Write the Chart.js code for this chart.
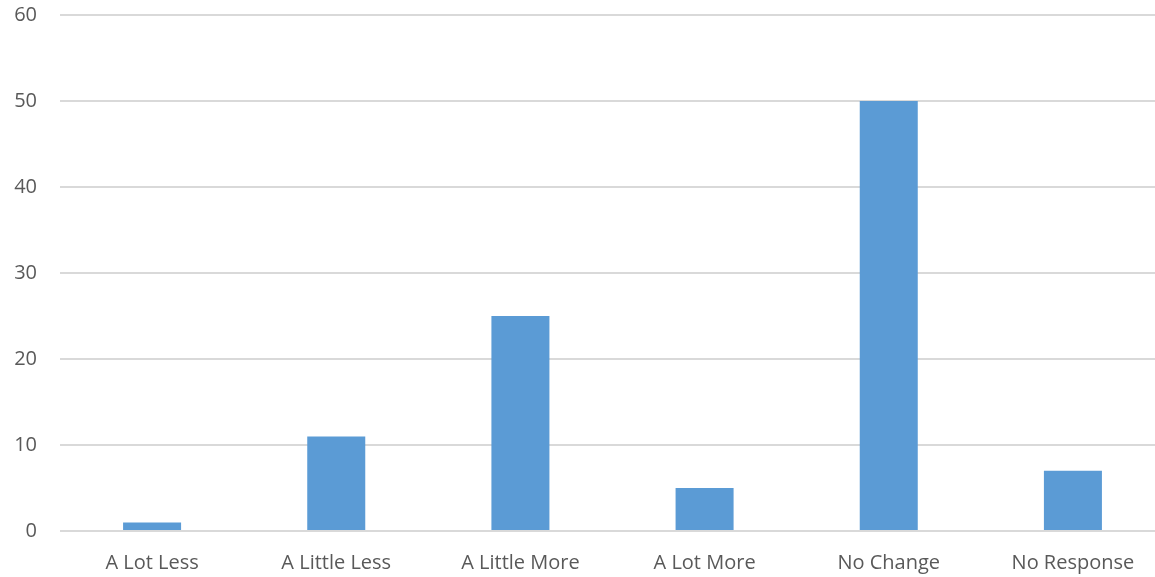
<!DOCTYPE html>
<html>
<head>
<meta charset="utf-8">
<script src="https://cdn.jsdelivr.net/npm/chart.js@4/dist/chart.umd.min.js"></script>
<style>
html,body{margin:0;padding:0;background:#fff;overflow:hidden;}
#wrap{width:1155px;height:577px;overflow:hidden;}
</style>
</head>
<body>
<div id="wrap"><canvas id="grafik" width="1165" height="577"></canvas></div>
<script>
// categories and response counts
const kategori=["A Lot Less","A Little Less","A Little More","A Lot More","No Change","No Response"];
const jumlah=[1,11,25,5,50,7];
const tickY=[0,10,20,30,40,50,60];

const ctx=document.getElementById("grafik");

new Chart(ctx,{
type:"bar",
data:{
labels:kategori,
datasets:[{
label:"Responses",
data:jumlah,
backgroundColor:"#5b9bd5",
borderWidth:0,
categoryPercentage:1,
barPercentage:0.315
}]
},
options:{
responsive:false,
animation:false,
layout:{padding:{top:15,right:0,left:0,bottom:0}},
plugins:{
legend:{display:false},
tooltip:{enabled:false}
},
scales:{
x:{
grid:{display:false},
border:{display:false},
ticks:{
color:"#595959",
font:{family:"'Open Sans'",size:20},
padding:12,
maxRotation:0
},
afterFit:function(a){a.height=46;}
},
y:{
min:0,
max:60,
afterBuildTicks:function(a){a.ticks=tickY.map(v=>({value:v}));},
grid:{color:"#d9d9d9",lineWidth:2,drawTicks:false},
border:{display:false},
ticks:{
color:"#595959",
font:{family:"'Open Sans'",size:20},
padding:23
},
afterFit:function(a){a.width=60;a.paddingTop=0;a.paddingBottom=0;}
}
}
}
});
</script>
</body>
</html>
